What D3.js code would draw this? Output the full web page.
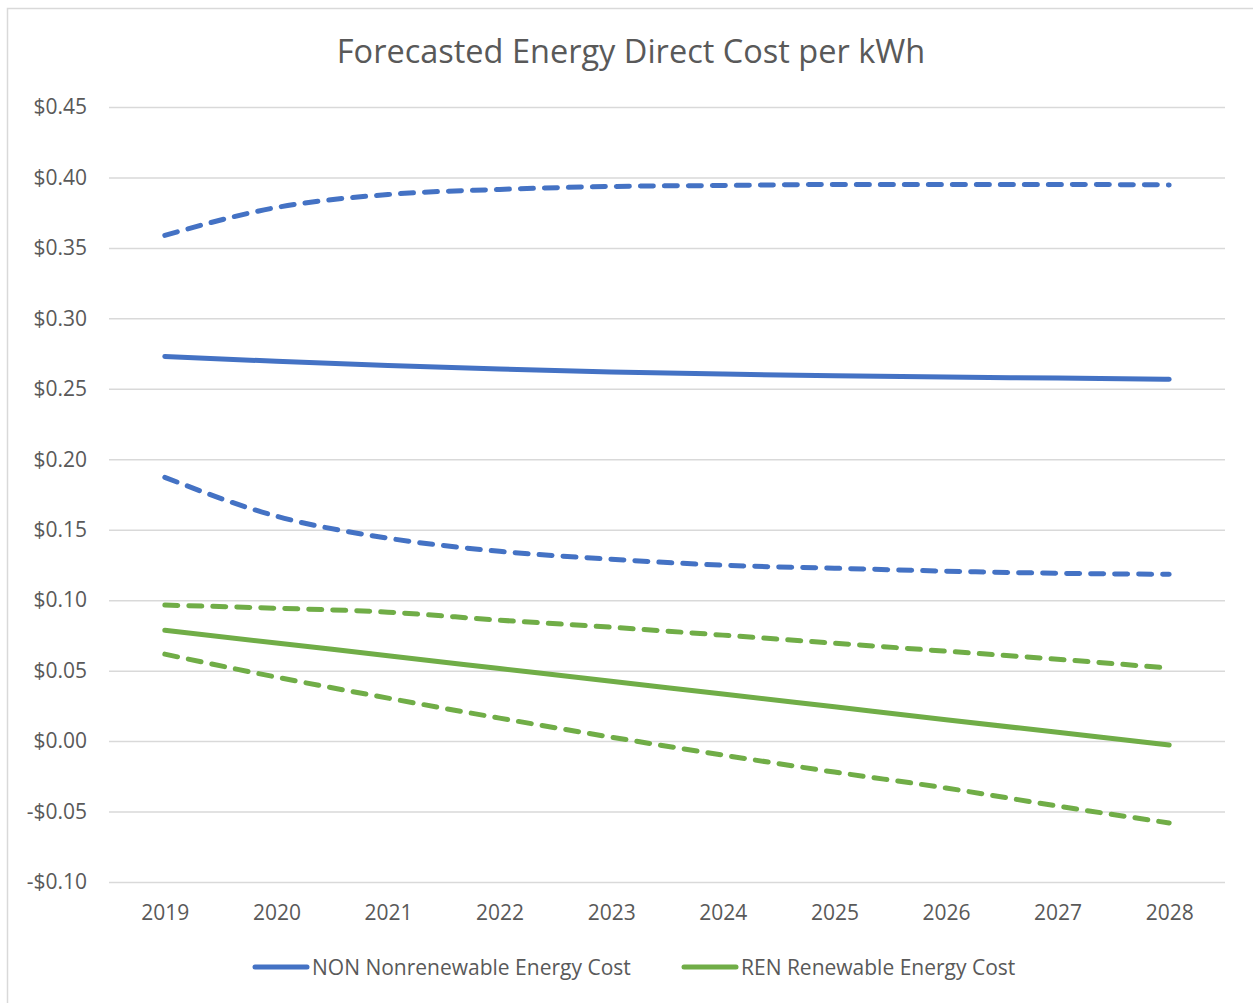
<!DOCTYPE html>
<html>
<head>
<meta charset="utf-8">
<script src="https://cdn.jsdelivr.net/npm/d3@7"></script>
<style>
  body { margin: 0; background: #fff; }
  text { font-family: "Open Sans", "Liberation Sans", sans-serif; fill: #595959; }
</style>
</head>
<body>
<div id="chart"></div>
<script>
// chart values
const years = ["2019", "2020", "2021", "2022", "2023", "2024", "2025", "2026", "2027", "2028"];
const nonMid = [0.2730, 0.2695, 0.2665, 0.2640, 0.2620, 0.2605, 0.2592, 0.2583, 0.2576, 0.2568];
const nonHigh = [0.3589, 0.3787, 0.3879, 0.3915, 0.3936, 0.3943, 0.3950, 0.3950, 0.3950, 0.3947];
const nonLow = [0.1872, 0.1596, 0.1440, 0.1347, 0.1291, 0.1248, 0.1227, 0.1206, 0.1191, 0.1184];
const renMid = [0.0787, 0.0696, 0.0606, 0.0515, 0.0424, 0.0334, 0.0243, 0.0152, 0.0062, -0.0028];
const renHigh = [0.0965, 0.0943, 0.0915, 0.0858, 0.0808, 0.0752, 0.0695, 0.0638, 0.0581, 0.0518];
const renLow = [0.0617, 0.0454, 0.0305, 0.0163, 0.0028, -0.0099, -0.0220, -0.0333, -0.0461, -0.0581];
const yTicks = [-0.10, -0.05, 0, 0.05, 0.10, 0.15, 0.20, 0.25, 0.30, 0.35, 0.40, 0.45];
const legendNames = ["NON Nonrenewable Energy Cost", "REN Renewable Energy Cost"];

const width = 1253;
const height = 1003;
const margin = { left: 109, right: 28, top: 107, bottom: 121 };
const blue = "#4472C4";
const green = "#70AD47";

const svg = d3.select("#chart")
    .append("svg")
    .attr("width", width)
    .attr("height", height);

// chart frame (only top and left edges are visible in the picture)
svg.append("rect")
    .attr("x", 7.5)
    .attr("y", 8.5)
    .attr("width", width + 20)
    .attr("height", height + 20)
    .attr("fill", "none")
    .attr("stroke", "#d9d9d9")
    .attr("stroke-width", 1.5);

svg.append("text")
    .attr("x", 631)
    .attr("y", 63)
    .attr("text-anchor", "middle")
    .attr("font-size", "32.5px")
    .text("Forecasted Energy Direct Cost per kWh");

const x = d3.scalePoint()
    .domain(years)
    .range([margin.left, width - margin.right])
    .padding(0.5);

const y = d3.scaleLinear()
    .domain([-0.10, 0.45])
    .range([height - margin.bottom, margin.top]);

const fmt = (d) => (d < -1e-9 ? "-$" : "$") + Math.abs(d).toFixed(2);

// y axis with gridlines
svg.append("g")
    .attr("transform", `translate(${margin.left},0)`)
    .call(d3.axisLeft(y).tickValues(yTicks).tickFormat(fmt)
        .tickSize(-(width - margin.left - margin.right)).tickPadding(22))
    .call((g) => g.select(".domain").remove())
    .call((g) => g.selectAll(".tick line").attr("stroke", "#d9d9d9").attr("stroke-width", 1.5))
    .call((g) => g.selectAll(".tick text").attr("font-size", "21px").attr("fill", "#595959")
        .attr("font-family", "Open Sans, sans-serif"));

// x axis labels
svg.append("g")
    .attr("transform", `translate(0,${height - margin.bottom})`)
    .call(d3.axisBottom(x).tickSize(0).tickPadding(23))
    .call((g) => g.select(".domain").remove())
    .call((g) => g.selectAll(".tick text").attr("font-size", "21px").attr("fill", "#595959")
        .attr("font-family", "Open Sans, sans-serif"));

const line = d3.line()
    .x((d, i) => x(years[i]))
    .y((d) => y(d))
    .curve(d3.curveMonotoneX);

const series = [
    { values: nonHigh, color: blue, dash: "13,11" },
    { values: nonMid, color: blue, dash: null },
    { values: nonLow, color: blue, dash: "13,11" },
    { values: renHigh, color: green, dash: "13,11" },
    { values: renMid, color: green, dash: null },
    { values: renLow, color: green, dash: "13,11" }
];

svg.selectAll("path.series")
    .data(series)
    .enter()
    .append("path")
    .attr("class", "series")
    .attr("d", (d) => line(d.values))
    .attr("fill", "none")
    .attr("stroke", (d) => d.color)
    .attr("stroke-width", 5)
    .attr("stroke-linecap", "round")
    .attr("stroke-linejoin", "round")
    .attr("stroke-dasharray", (d) => d.dash);

// legend
const legend = svg.append("g").attr("transform", "translate(0,967)");
const legendX = [255, 684];
[blue, green].forEach((c, i) => {
    legend.append("line")
        .attr("x1", legendX[i])
        .attr("x2", legendX[i] + 52)
        .attr("y1", 0)
        .attr("y2", 0)
        .attr("stroke", c)
        .attr("stroke-width", 5)
        .attr("stroke-linecap", "round");
    legend.append("text")
        .attr("x", legendX[i] + 57)
        .attr("y", 7.5)
        .attr("font-size", "21px")
        .text(legendNames[i]);
});
</script>
</body>
</html>
